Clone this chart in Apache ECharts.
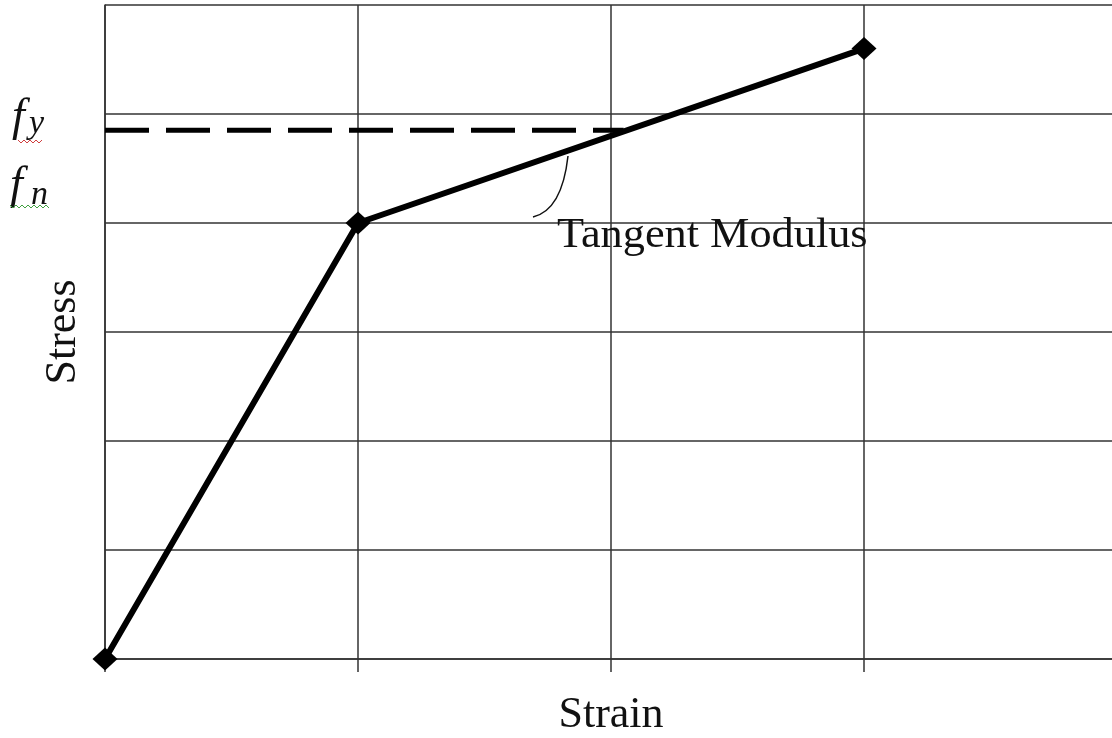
<!DOCTYPE html>
<html>
<head>
<meta charset="utf-8">
<script src="https://cdn.jsdelivr.net/npm/echarts@6/dist/echarts.min.js"></script>
<style>
html,body{margin:0;padding:0;background:#fff;}
#chart{width:1112px;height:738px;}
</style>
</head>
<body>
<div id="chart"></div>
<script>
// stress-strain curve (bilinear)
var strain = [0, 1, 3];
var stress = [0, 4, 5.6];
// yield line
var yieldX = [0, 2.05];
var yieldY = 4.85;

var curveData = strain.map(function (x, i) { return [x, stress[i]]; });
var yieldData = yieldX.map(function (x) { return [x, yieldY]; });

var serif = '"Liberation Serif", "DejaVu Serif", serif';

// little squiggle under a label
function squiggle(x0, x1, y, color) {
	var pts = [];
	for (var x = x0, k = 0; x <= x1; x += 3, k++) {
		pts.push([x, y + (k % 2 ? 2 : -1)]);
	}
	return {
		type: 'polyline',
		shape: { points: pts },
		style: { stroke: color, lineWidth: 1, fill: null },
		z: 10
	};
}

function label(txt, x, y, size, opt) {
	opt = opt || {};
	return {
		type: 'text',
		x: x,
		y: y,
		scaleX: opt.scaleX || 1,
		style: {
			text: txt,
			x: 0,
			y: 0,
			align: opt.align || 'left',
			verticalAlign: 'middle',
			fontFamily: serif,
			fontStyle: opt.italic ? 'italic' : 'normal',
			fontSize: size,
			fill: '#111'
		},
		z: 10
	};
}

var myChart = echarts.init(document.getElementById('chart'));
var option = {
	animation: false,
	backgroundColor: '#fff',
	grid: {
		left: 105,
		width: 1012,
		top: 5,
		height: 654,
		outerBoundsMode: 'none'
	},
	xAxis: {
		type: 'value',
		min: 0,
		max: 4,
		interval: 1,
		name: 'Strain',
		nameLocation: 'middle',
		nameGap: 34,
		nameTextStyle: { fontFamily: serif, fontSize: 44, color: '#111' },
		axisLine: { show: true, lineStyle: { color: '#333', width: 1.5 } },
		axisTick: { show: true, length: 13, lineStyle: { color: '#333', width: 1.5 } },
		axisLabel: { show: false },
		splitLine: { show: true, lineStyle: { color: '#333', width: 1.5 } }
	},
	yAxis: {
		type: 'value',
		min: 0,
		max: 6,
		interval: 1,
		name: 'Stress',
		nameLocation: 'middle',
		nameRotate: 90,
		nameGap: 20,
		nameTextStyle: { fontFamily: serif, fontSize: 44, color: '#111' },
		axisLine: { show: true, lineStyle: { color: '#333', width: 1.5 } },
		axisTick: { show: false },
		axisLabel: { show: false },
		splitLine: { show: true, lineStyle: { color: '#333', width: 1.5 } }
	},
	series: [
		{
			name: 'fy',
			type: 'line',
			data: yieldData,
			symbol: 'none',
			lineStyle: { color: '#000', width: 5, type: [44, 17] },
			z: 3
		},
		{
			name: 'curve',
			type: 'line',
			data: curveData,
			symbol: 'diamond',
			symbolSize: [25, 23],
			itemStyle: { color: '#000' },
			lineStyle: { color: '#000', width: 6 },
			z: 4
		}
	],
	graphic: [
		label('Tangent Modulus', 557, 236, 43, { scaleX: 1.03 }),
		label('f', 12, 118, 46, { italic: true }),
		label('y', 29, 124, 34, { italic: true }),
		label('f', 10, 186, 46, { italic: true }),
		label('n', 31, 195, 34, { italic: true }),
		squiggle(18, 44, 141, '#d04040'),
		squiggle(10, 50, 206, '#40a040'),
		{
			type: 'bezierCurve',
			shape: { x1: 533, y1: 217, cpx1: 562, cpy1: 210, x2: 568, y2: 156 },
			style: { stroke: '#111', lineWidth: 1.5, fill: null },
			z: 10
		}
	]
};
myChart.setOption(option);
</script>
</body>
</html>
